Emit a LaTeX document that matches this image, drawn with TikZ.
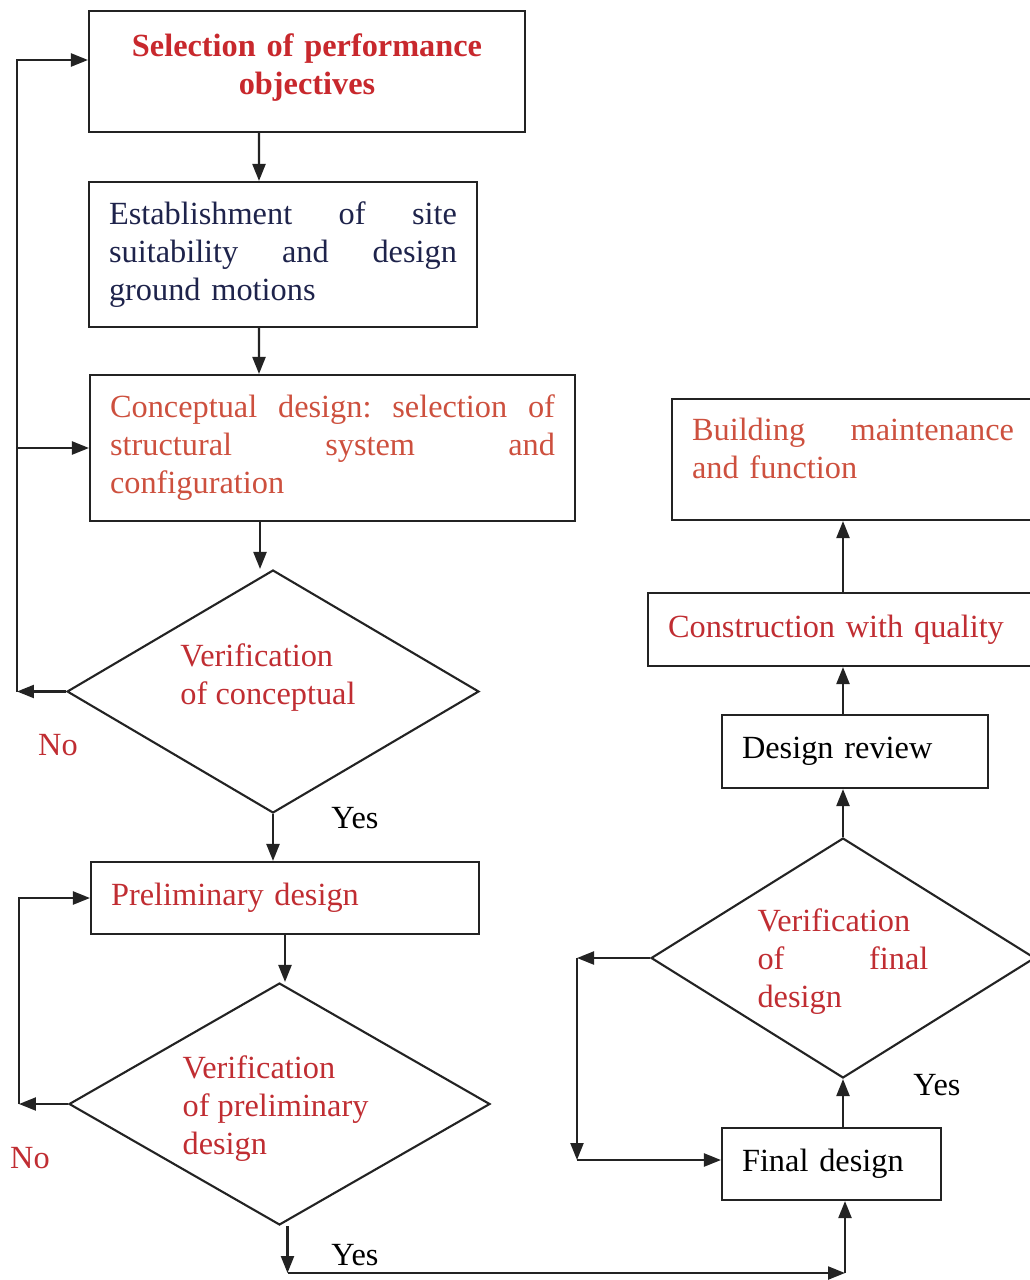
\documentclass[tikz,border=0pt]{standalone}
\usepackage{fontspec}
\setmainfont{Liberation Serif}
\usetikzlibrary{shapes.geometric, arrows.meta}

\definecolor{titlered}{RGB}{200,40,45}
\definecolor{softred}{RGB}{205,80,62}
\definecolor{decred}{RGB}{192,45,50}
\definecolor{navytext}{RGB}{30,35,75}
\definecolor{linegray}{RGB}{35,35,35}

\newcommand{\chartfont}{\fontsize{18.4}{21.6}\selectfont}
\newcommand{\jline}[2]{\leavevmode\hbox to #1{#2}\\}
\newcommand{\lift}[1]{\rule[-#1]{0pt}{0pt}}

\begin{document}
\begin{tikzpicture}[x=0.02cm, y=-0.02cm]

\tikzset{block/.style = {shape=rectangle, draw=linegray, line width=1.2pt, inner xsep=0.4cm, inner ysep=0pt, align=left, font=\chartfont}}
\tikzset{decision/.style = {shape=diamond, draw=linegray, line width=1.2pt, inner sep=0pt}}
\tikzset{edge/.style = {-{Triangle[length=0.34cm,width=0.26cm]}, line width=1.3pt, draw=linegray}}
\tikzset{answer/.style = {font=\chartfont}}

\useasboundingbox (0,0) rectangle (1030,1280);

%boxes
\node[block, minimum width=8.72cm, minimum height=2.42cm, text width=7.92cm, align=center, text=titlered, font=\chartfont\bfseries] (objectives) at (307,71.5) {Selection of performance\\objectives\lift{0.28cm}};
\node[block, minimum width=7.76cm, minimum height=2.9cm, text width=6.96cm, text=navytext] (establish) at (283,254.5) {\jline{6.96cm}{Establishment\hfill of\hfill site}\jline{6.96cm}{suitability\hfill and\hfill design}ground motions\lift{0.1cm}};
\node[block, minimum width=9.7cm, minimum height=2.92cm, text width=8.9cm, text=softred] (concept) at (332.5,448) {\jline{8.9cm}{Conceptual\hfill design:\hfill selection\hfill of}\jline{8.9cm}{structural\hfill system\hfill and}configuration};
\node[block, minimum width=7.76cm, minimum height=1.44cm, text width=6.96cm, text=decred] (prelim) at (285,898) {Preliminary design\lift{0.08cm}};
\node[block, minimum width=7.24cm, minimum height=2.42cm, text width=6.44cm, text=softred] (building) at (853,459.5) {\jline{6.44cm}{Building\hfill maintenance}and function\lift{0.44cm}};
\node[block, minimum width=8cm, minimum height=1.46cm, text width=7.2cm, text=decred] (construct) at (848,629.5) {Construction with quality\lift{0.12cm}};
\node[block, minimum width=5.32cm, minimum height=1.46cm, text width=4.52cm] (review) at (855,751.5) {Design review};
\node[block, minimum width=4.38cm, minimum height=1.44cm, text width=3.58cm] (final) at (831.5,1164) {Final design};

%decisions
\node[decision, minimum width=8.24cm, minimum height=4.86cm, label={[xshift=-0.1cm, yshift=0.27cm, align=left, text=decred, font=\chartfont]center:{Verification\\of conceptual}}] (verconcept) at (273,691.5) {};
\node[decision, minimum width=8.42cm, minimum height=4.84cm, label={[xshift=-0.08cm, yshift=-0.1cm, align=left, text=decred, font=\chartfont]center:{Verification\\of preliminary\\design}}] (verprelim) at (279.5,1104) {};
\node[decision, minimum width=7.68cm, minimum height=4.8cm, label={[yshift=-0.08cm, text width=3.42cm, align=left, text=decred, font=\chartfont]center:{Verification\\\jline{3.42cm}{of\hfill final}design}}] (verfinal) at (843,958) {};

%arrows
\draw[edge] ([xshift=-0.96cm]objectives.south) -- ([xshift=-0.48cm]establish.north);
\draw[edge] ([xshift=-0.48cm]establish.south) -- ([xshift=-1.47cm]concept.north);
\draw[edge] ([xshift=-1.45cm]concept.south) -- ([xshift=-1.45cm]concept.south |- verconcept.north);
\draw[edge] (verconcept.south) -- (verconcept.south |- prelim.north);
\draw[edge] (prelim.south) -- (prelim.south |- verprelim.north);

\draw[edge] (verconcept.west) -- ++(-0.98cm,0) coordinate (noone);
\draw[edge] (noone) |- ([yshift=0.23cm]objectives.west);
\draw[edge] (noone |- concept.west) -- (concept.west);

\draw[edge] (verprelim.west) -- ++(-0.98cm,0) coordinate (notwo);
\draw[edge] (notwo) |- (prelim.west);

\coordinate (finalin) at ([xshift=0.27cm]final.south);
\coordinate (finalleft) at ([yshift=0.08cm]final.west);
\draw[edge] ([xshift=0.16cm]verprelim.south) -- ++(0,-0.94cm) coordinate (yesline);
\draw[edge] (yesline) -- (yesline -| finalin);
\draw[edge] (yesline -| finalin) -- (finalin);

\draw[edge] (final.north -| verfinal.south) -- (verfinal.south);
\draw[edge] (verfinal.west) -- ++(-1.46cm,0) coordinate (nothree);
\draw[edge] (nothree) -- (nothree |- finalleft);
\draw[edge] (nothree |- finalleft) -- (finalleft);

\draw[edge] (verfinal.north) -- (verfinal.north |- review.south);
\draw[edge] (review.north -| verfinal.north) -- (verfinal.north |- construct.south);
\draw[edge] (construct.north -| verfinal.north) -- (verfinal.north |- building.south);

%labels
\node[answer, text=decred] (noconcept) at (58,745) {No};
\node[answer] (yesconcept) at (355,818) {Yes};
\node[answer, text=decred] (noprelim) at (30,1158) {No};
\node[answer] (yesprelim) at (355,1255) {Yes};
\node[answer] (yesfinal) at (937,1085) {Yes};

\end{tikzpicture}
\end{document}
